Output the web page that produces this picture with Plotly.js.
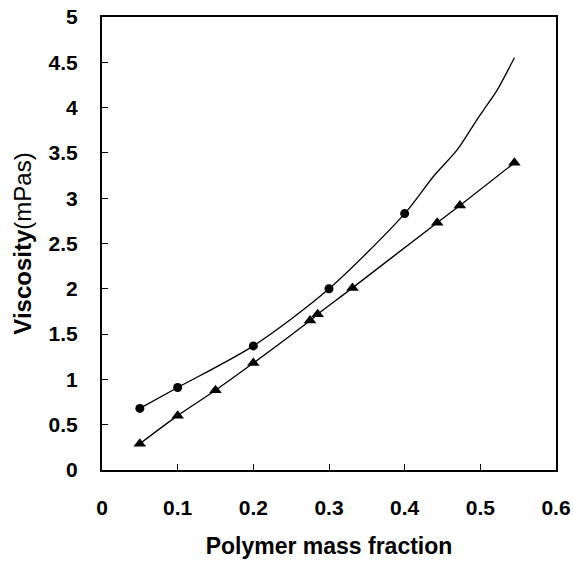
<!DOCTYPE html>
<html>
<head>
<meta charset="utf-8">
<script src="https://cdn.plot.ly/plotly-3.0.1.min.js"></script>
<style>html,body{margin:0;padding:0;background:#fff;}#chart{width:573px;height:563px;}</style>
</head>
<body>
<div id="chart"></div>
<script>
// Circle series: measured points
const circleX = [0.05, 0.10, 0.20, 0.30, 0.40];
const circleY = [0.68, 0.91, 1.37, 2.00, 2.83];
// Circle fitted curve
const circleCurveX = [0.05, 0.10, 0.20, 0.30, 0.40, 0.438, 0.469, 0.495, 0.504, 0.522, 0.545];
const circleCurveY = [0.68, 0.91, 1.37, 2.00, 2.83, 3.24, 3.53, 3.86, 3.97, 4.19, 4.55];
// Triangle series: measured points
const triX = [0.05, 0.10, 0.15, 0.20, 0.275, 0.285, 0.331, 0.443, 0.473, 0.545];
const triY = [0.29, 0.60, 0.88, 1.18, 1.65, 1.72, 2.01, 2.73, 2.92, 3.39];
// Tick labels
const xTicks = [0, 0.1, 0.2, 0.3, 0.4, 0.5, 0.6];
const xTickText = ['0', '0.1', '0.2', '0.3', '0.4', '0.5', '0.6'];
const yTicks = [0, 0.5, 1, 1.5, 2, 2.5, 3, 3.5, 4, 4.5, 5];
const yTickText = ['0', '0.5', '1', '1.5', '2', '2.5', '3', '3.5', '4', '4.5', '5'];

const font = 'Liberation Sans, Arial, sans-serif';
const traces = [
  {x: circleCurveX, y: circleCurveY, mode: 'lines', line: {color: '#000', width: 1.3, shape: 'spline', smoothing: 0.8}, hoverinfo: 'skip'},
  {x: circleX, y: circleY, mode: 'markers', marker: {symbol: 'circle', size: 9, color: '#000'}},
  {x: triX, y: triY, mode: 'lines+markers', line: {color: '#000', width: 1.3, shape: 'spline', smoothing: 0.8}, marker: {symbol: 'triangle-up', size: 11, color: '#000'}}
];
const layout = {
  width: 573, height: 563,
  margin: {l: 102, r: 17, t: 17, b: 93},
  showlegend: false,
  paper_bgcolor: '#fff', plot_bgcolor: '#fff',
  font: {family: font, color: '#000'},
  xaxis: {
    range: [0, 0.6], tickvals: xTicks, ticktext: xTickText,
    showgrid: false, zeroline: false,
    showline: true, linecolor: '#000', linewidth: 2, mirror: true,
    ticks: 'inside', ticklen: 6, tickwidth: 1, tickcolor: '#000',
    ticklabelstandoff: 18,
    tickfont: {family: font, size: 21, color: '#000', weight: 'bold'},
    title: {text: '<b>Polymer mass fraction</b>', font: {family: font, size: 23, color: '#000'}, standoff: 20}
  },
  yaxis: {
    range: [0, 5], tickvals: yTicks, ticktext: yTickText,
    showgrid: false, zeroline: false,
    showline: true, linecolor: '#000', linewidth: 2, mirror: true,
    ticks: 'inside', ticklen: 6, tickwidth: 1, tickcolor: '#000',
    ticklabelstandoff: 18,
    tickfont: {family: font, size: 21, color: '#000', weight: 'bold'},
    title: {text: '<b>Viscosity</b>(mPas)', font: {family: font, size: 24, color: '#000'}, standoff: 10}
  }
};
Plotly.newPlot('chart', traces, layout, {displayModeBar: false, staticPlot: true});
</script>
</body>
</html>
